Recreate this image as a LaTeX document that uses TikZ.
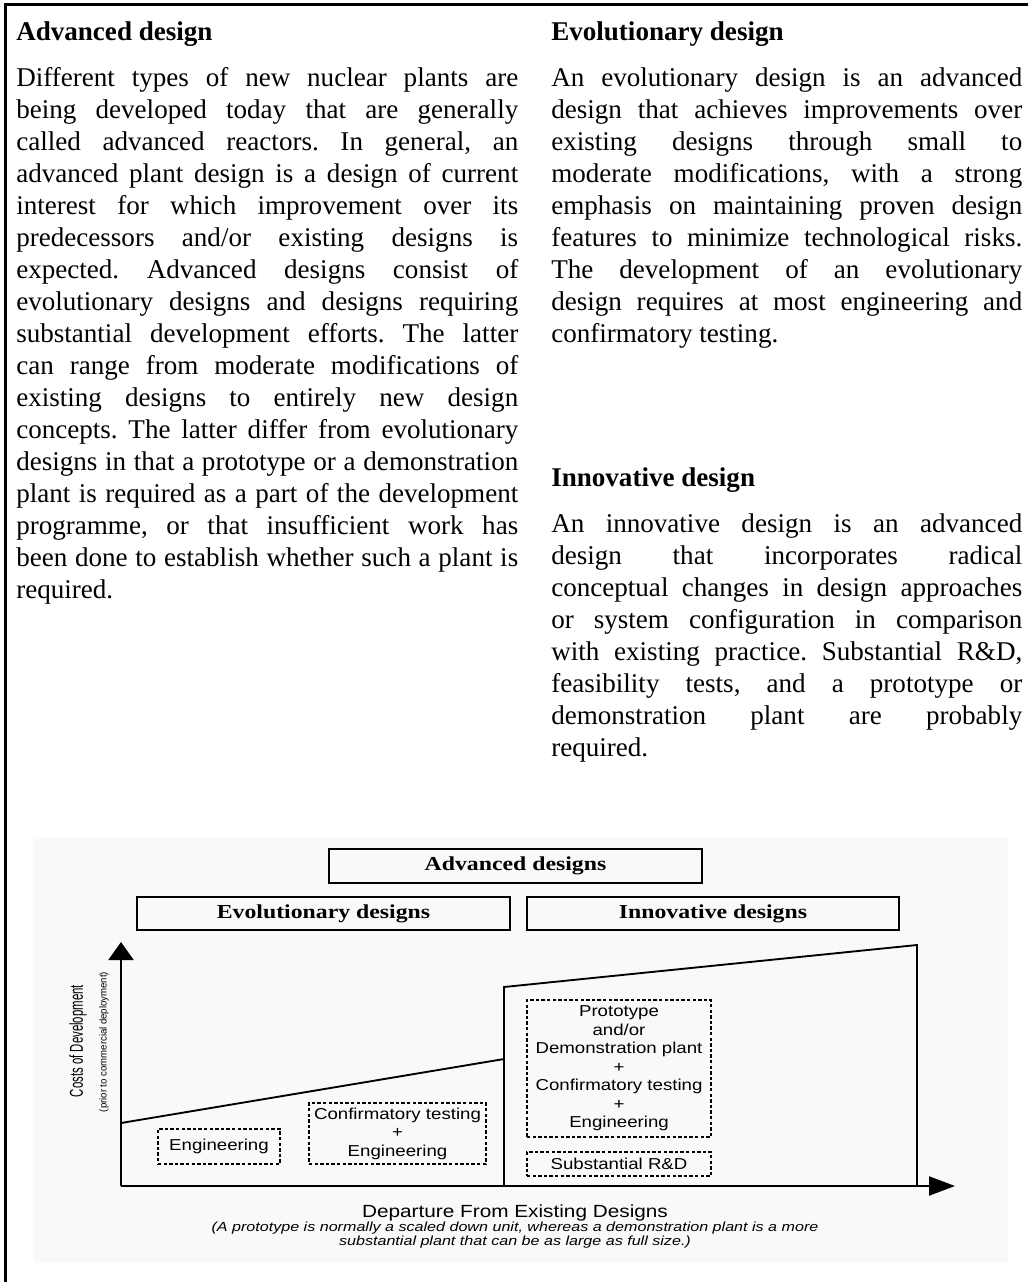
\documentclass[tikz,border=0pt]{standalone}
\usepackage{fontspec}
\setmainfont{Liberation Serif}
\newfontfamily\chartsans[FakeStretch=1.18]{Liberation Sans}
\newfontfamily\chartnote[FakeStretch=1.22]{Liberation Sans}
\newfontfamily\chartserif[FakeStretch=1.2]{Liberation Serif}
\newfontfamily\chartcond[FakeStretch=0.61]{Liberation Sans}
\newfontfamily\chartsub[FakeStretch=0.96]{Liberation Sans}
\usetikzlibrary{arrows.meta}
\frenchspacing
\newcommand\jline[1]{{\parfillskip=0pt\relax #1\par}}
\newcommand\bodyfont{\fontsize{20.3}{24}\selectfont\tolerance=10000\relax}
\begin{document}
\begin{tikzpicture}[x=0.75pt,y=-0.75pt,
  frame/.style={line width=1.8pt},
  head/.style={anchor=base west, inner sep=0pt, font=\bodyfont\bfseries},
  para/.style={anchor=base west, inner sep=0pt, align=justify, font=\bodyfont},
  titlebox/.style={draw, line width=1.1pt, inner sep=0pt, font=\chartserif\fontsize{14.85}{16}\selectfont\bfseries},
  dbox/.style={draw, line width=0.9pt, dash pattern=on 2.6pt off 1.6pt, inner sep=0pt, align=center,
    font=\chartsans\fontsize{11.85}{13.9}\selectfont},
  axis/.style={line width=1.6pt},
  curve/.style={line width=1.4pt}
]
\useasboundingbox (0,0) rectangle (1028,1282);
\fill[black!2.5] (33,837) rectangle (1008,1263);
\draw[frame] (1028,4.5) -- (5.5,4.5) -- (5.5,1282);

% ---- text columns ----
\node[head] (h1) at (16,40) {Advanced design};
\node[para, text width=376.5pt] (p1) at (16,86.7) {%
\jline{Different types of new nuclear plants are}
\jline{being developed today that are generally}
\jline{called advanced reactors. In general, an}
\jline{advanced plant design is a design of current}
\jline{interest for which improvement over its}
\jline{predecessors and/or existing designs is}
\jline{expected. Advanced designs consist of}
\jline{evolutionary designs and designs requiring}
\jline{substantial development efforts. The latter}
\jline{can range from moderate modifications of}
\jline{existing designs to entirely new design}
\jline{concepts. The latter differ from evolutionary}
\jline{designs in that a prototype or a demonstration}
\jline{plant is required as a part of the development}
\jline{programme, or that insufficient work has}
\jline{been done to establish whether such a plant is}
required.};

\node[head] (h2) at (551,40) {Evolutionary design};
\node[para, text width=353.25pt] (p2) at (551,86.7) {%
\jline{An evolutionary design is an advanced}
\jline{design that achieves improvements over}
\jline{existing designs through small to}
\jline{moderate modifications, with a strong}
\jline{emphasis on maintaining proven design}
\jline{features to minimize technological risks.}
\jline{The development of an evolutionary}
\jline{design requires at most engineering and}
confirmatory testing.};

\node[head] (h3) at (551,486) {Innovative design};
\node[para, text width=353.25pt] (p3) at (551,532) {%
\jline{An innovative design is an advanced}
\jline{design that incorporates radical}
\jline{conceptual changes in design approaches}
\jline{or system configuration in comparison}
\jline{with existing practice. Substantial R\&D,}
\jline{feasibility tests, and a prototype or}
\jline{demonstration plant are probably}
required.};

% ---- chart ----
\node[titlebox, minimum width=279.75pt, minimum height=25.5pt] (adv) at (515.5,866) {Advanced designs};
\node[titlebox, minimum width=279.75pt, minimum height=24.75pt] (evo) at (323.5,913.5) {Evolutionary designs};
\node[titlebox, minimum width=279pt, minimum height=24.75pt] (inn) at (713,913.5) {Innovative designs};

\coordinate (O) at (121,1186);
\coordinate (ytip) at (121,942);
\coordinate (xtip) at (955,1186);
\draw[axis, -{Triangle[length=13.5pt,width=18.75pt]}] (O) -- (ytip);
\draw[axis, -{Triangle[length=19.5pt,width=14.25pt]}] (O) -- (xtip);

\coordinate (L0) at (121,1123);
\coordinate (L1) at (504,1059);
\coordinate (R0) at (504,987);
\coordinate (R1) at (917,945);
\coordinate (Rb) at (917,1186);
\coordinate (Mb) at (504,1186);
\draw[curve] (L0) -- (L1);
\draw[curve] (Mb) -- (R0) -- (R1) -- (Rb);

\node[dbox, minimum width=91.5pt, minimum height=26.25pt] (eng) at (219,1146.5) {Engineering};
\node[dbox, minimum width=132.75pt, minimum height=45.75pt] (conf) at (397.5,1133.5) {Confirmatory testing\\+\\Engineering};
\node[dbox, minimum width=138pt, minimum height=102.75pt] (proto) at (619,1068.5) {Prototype\\and/or\\Demonstration plant\\+\\Confirmatory testing\\+\\Engineering};
\node[dbox, minimum width=138pt, minimum height=18pt] (rd) at (619,1164) {Substantial R\&D};

\node[rotate=90, inner sep=0pt, font=\chartcond\fontsize{14}{15}\selectfont] (ylab) at (78,1041) {Costs of Development};
\node[rotate=90, inner sep=0pt, font=\chartsub\fontsize{7.5}{8}\selectfont] (ysub) at (104,1042) {(prior to commercial deployment)};

\node[anchor=base, inner sep=0pt, font=\chartsans\fontsize{13.2}{14}\selectfont] (xlab) at (515,1217) {Departure From Existing Designs};
\node[anchor=base, inner sep=0pt, font=\chartnote\fontsize{9.9}{10.5}\selectfont\itshape] (note1) at (515,1231) {(A prototype is normally a scaled down unit, whereas a demonstration plant is a more};
\node[anchor=base, inner sep=0pt, font=\chartnote\fontsize{9.9}{10.5}\selectfont\itshape] (note2) at (515,1245) {substantial plant that can be as large as full size.)};
\end{tikzpicture}
\end{document}
